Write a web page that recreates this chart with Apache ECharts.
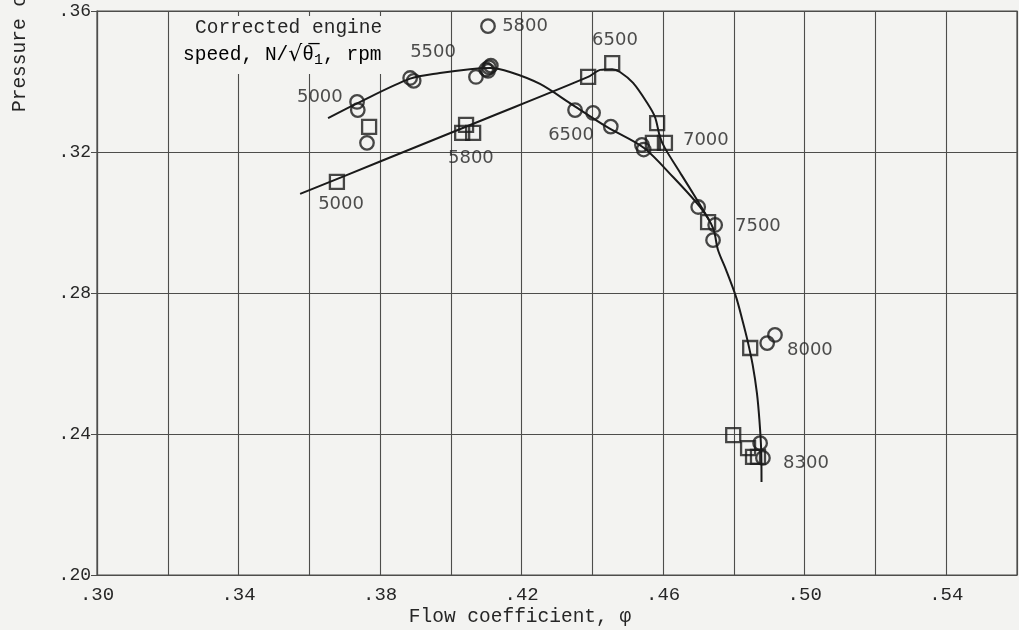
<!DOCTYPE html>
<html>
<head>
<meta charset="utf-8">
<script src="https://cdn.jsdelivr.net/npm/echarts@6/dist/echarts.min.js"></script>
<style>
  html, body { margin: 0; padding: 0; background: #f3f3f1; }
  #chart { width: 1019px; height: 630px; }
</style>
</head>
<body>
<div id="chart"></div>
<script>
// Open-circle test points: flow coefficient (phi) and pressure coefficient (psi)
const circlePhi = [0.3735, 0.3737, 0.3763, 0.3885, 0.3895, 0.4071, 0.4100, 0.4108, 0.4113, 0.4105,
                   0.4105, 0.4351, 0.4402, 0.4452, 0.4540, 0.4545, 0.4699, 0.4747, 0.4741,
                   0.4894, 0.4916, 0.4874, 0.4882];
const circlePsi = [0.3342, 0.3319, 0.3226, 0.3410, 0.3402, 0.3413, 0.3434, 0.3440, 0.3445, 0.3430,
                   0.3557, 0.3319, 0.3311, 0.3272, 0.3220, 0.3207, 0.3044, 0.2993, 0.2950,
                   0.2658, 0.2681, 0.2374, 0.2332];

// Open-square test points
const squarePhi = [0.3678, 0.3769, 0.4043, 0.4032, 0.4063, 0.4388, 0.4456, 0.4583, 0.4571, 0.4605,
                   0.4727, 0.4846, 0.4798, 0.4840, 0.4854, 0.4868];
const squarePsi = [0.3115, 0.3271, 0.3277, 0.3254, 0.3254, 0.3413, 0.3452, 0.3282, 0.3226, 0.3226,
                   0.3001, 0.2644, 0.2397, 0.2360, 0.2335, 0.2335];

// Faired curve through the circle points
const circleCurvePhi = [0.3653, 0.3735, 0.3885, 0.3969, 0.4054, 0.4111, 0.4167, 0.4252, 0.4345, 0.4441,
                        0.4545, 0.4628, 0.4704, 0.4741, 0.4755, 0.4778, 0.4806, 0.4824, 0.4838, 0.4853,
                        0.4865, 0.4872, 0.4877, 0.4878];
const circleCurvePsi = [0.3296, 0.3338, 0.3408, 0.3424, 0.3435, 0.3438, 0.3427, 0.3393, 0.3333, 0.3271,
                        0.3212, 0.3129, 0.3044, 0.2984, 0.2922, 0.2865, 0.2789, 0.2723, 0.2667, 0.2596,
                        0.2516, 0.2440, 0.2355, 0.2264];

// Faired curve through the square points (joins the circle curve near 7500 rpm)
const squareCurvePhi = [0.3574, 0.3800, 0.4100, 0.4388, 0.4422, 0.4456, 0.4478, 0.4515, 0.4555, 0.4577,
                        0.4591, 0.4605, 0.4650, 0.4696, 0.4730];
const squareCurvePsi = [0.3081, 0.3173, 0.3295, 0.3413, 0.3433, 0.3435, 0.3427, 0.3396, 0.3339, 0.3299,
                        0.3243, 0.3211, 0.3138, 0.3064, 0.3007];

// Corrected engine speed annotations (rpm) and where they sit on the chart
const speedText = ['5800', '5500', '5000', '6500', '6500', '5800', '5000', '7000', '7500', '8000', '8300'];
const speedPhi  = [0.4145, 0.3885, 0.3565, 0.4399, 0.4275, 0.3992, 0.3625, 0.4656, 0.4803, 0.4950, 0.4939];
const speedPsi  = [0.3557, 0.3484, 0.3356, 0.3518, 0.3248, 0.3183, 0.3052, 0.3234, 0.2990, 0.2638, 0.2318];

// Labelled tick values
const xTickValues = [0.30, 0.34, 0.38, 0.42, 0.46, 0.50, 0.54];
const yTickValues = [0.20, 0.24, 0.28, 0.32, 0.36];

const zip = (a, b) => a.map((v, i) => [v, b[i]]);
const paper = '#f3f3f1';
const ink = '#1a1a1a';
const textInk = '#262626';
const gridInk = '#4d4d4b';
const mono = 'Liberation Mono';
const fmt = v => v.toFixed(2).slice(1);

const chart = echarts.init(document.getElementById('chart'), null, { renderer: 'canvas' });

const option = {
  backgroundColor: paper,
  animation: false,
  grid: {
    left: 97, right: 2, top: 11, bottom: 55,
    show: true, borderColor: gridInk, borderWidth: 1.2, backgroundColor: 'transparent'
  },
  xAxis: {
    type: 'value', min: 0.30, max: 0.56, interval: 0.02,
    axisLine: { show: true, lineStyle: { color: gridInk, width: 1.2 } },
    axisTick: { show: false },
    axisLabel: { customValues: xTickValues, formatter: fmt, fontFamily: mono, fontSize: 19, color: textInk, margin: 10 },
    splitLine: { show: true, lineStyle: { color: gridInk, width: 1.1 } }
  },
  yAxis: {
    type: 'value', min: 0.20, max: 0.36, interval: 0.02,
    axisLine: { show: true, lineStyle: { color: gridInk, width: 1.2 } },
    axisTick: { show: true, customValues: yTickValues, length: 6, lineStyle: { color: gridInk } },
    axisLabel: { customValues: yTickValues, formatter: fmt, fontFamily: mono, fontSize: 18, color: textInk, margin: 6 },
    splitLine: { show: true, lineStyle: { color: gridInk, width: 1.1 } }
  },
  graphic: [
    {
      type: 'rect', z: 1, silent: true,
      shape: { x: 181, y: 16, width: 214, height: 58 },
      style: { fill: paper }
    },
    {
      type: 'text', z: 5, x: 195, y: 28, silent: true,
      style: { text: 'Corrected engine', font: '19.5px "Liberation Mono"', fill: textInk, textVerticalAlign: 'middle' }
    },
    {
      type: 'text', z: 5, x: 183, y: 55, silent: true,
      style: {
        text: '{t|speed, N/}{r|\u221a}{o|\u03b8\u0305}{s|1}{t|, rpm}',
        textVerticalAlign: 'middle',
        rich: {
          t: { fontFamily: mono, fontSize: 19.5, color: textInk },
          r: { fontFamily: 'DejaVu Sans', fontSize: 22, color: textInk },
          o: { fontFamily: mono, fontSize: 19.5, color: textInk },
          s: { fontFamily: mono, fontSize: 15, color: textInk, padding: [10, 0, 0, 0] }
        }
      }
    },
    {
      type: 'text', z: 5, x: 20, y: 112, rotation: Math.PI / 2, silent: true,
      style: { text: 'Pressure coefficient, \u03c8', font: '19.5px "Liberation Mono"', fill: textInk,
               textAlign: 'left', textVerticalAlign: 'middle' }
    },
    {
      type: 'text', z: 5, x: 520, y: 617, silent: true,
      style: { text: 'Flow coefficient, \u03c6', font: '19.5px "Liberation Mono"', fill: textInk,
               textAlign: 'center', textVerticalAlign: 'middle' }
    }
  ],
  series: [
    {
      type: 'line', data: zip(circleCurvePhi, circleCurvePsi), smooth: 0.3, showSymbol: false, silent: true,
      lineStyle: { color: ink, width: 2 }, z: 3
    },
    {
      type: 'line', data: zip(squareCurvePhi, squareCurvePsi), smooth: 0.3, showSymbol: false, silent: true,
      lineStyle: { color: ink, width: 2 }, z: 3
    },
    {
      type: 'scatter', data: zip(circlePhi, circlePsi), symbol: 'circle', symbolSize: 13.5, silent: true,
      itemStyle: { color: 'rgba(0,0,0,0)', borderColor: ink, borderWidth: 2.3 }, z: 4
    },
    {
      type: 'scatter', data: zip(squarePhi, squarePsi), symbol: 'rect', symbolSize: 14, silent: true,
      itemStyle: { color: 'rgba(0,0,0,0)', borderColor: ink, borderWidth: 2.3 }, z: 4
    },
    {
      type: 'scatter', silent: true, symbolSize: 0, z: 5,
      data: speedText.map((t, i) => ({ name: t, value: [speedPhi[i], speedPsi[i]] })),
      label: {
        show: true, position: 'right', distance: 0, formatter: p => p.name,
        fontFamily: 'DejaVu Sans', fontSize: 18, color: '#222'
      }
    }
  ]
};

chart.setOption(option);
</script>
</body>
</html>
